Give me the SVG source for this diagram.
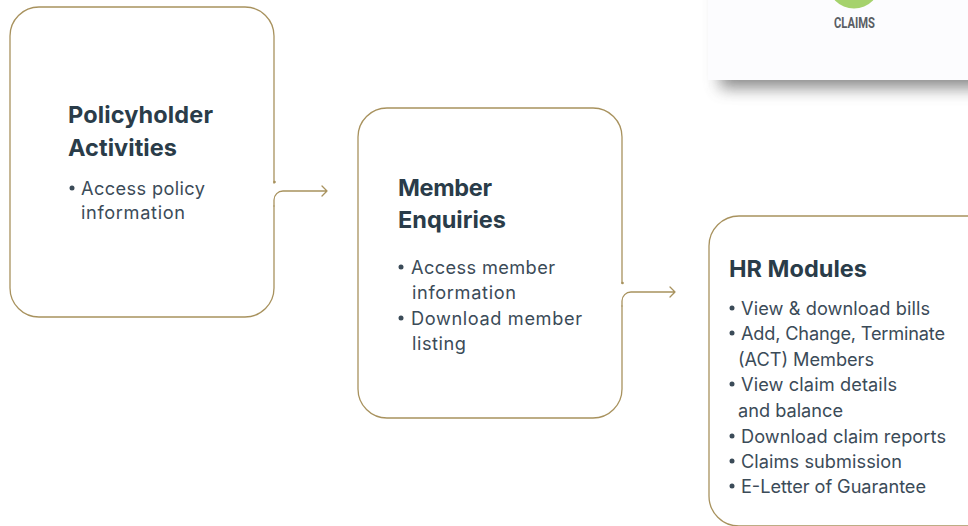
<svg xmlns="http://www.w3.org/2000/svg" width="968" height="526" viewBox="0 0 968 526">
<defs>
<style>
.n{fill:none;stroke:#a8925e;stroke-width:1.3;stroke-linecap:round;stroke-linejoin:round}
.t{font-family:"Inter","Noto Sans","Liberation Sans",sans-serif;font-weight:700;font-size:23.5px;fill:#2a3c49}
.b{font-family:"Inter","Noto Sans","Liberation Sans",sans-serif;font-size:18.2px;fill:#3b4b58}
.d{fill:#3b4b58}
.c{font-family:"Roboto","Liberation Sans",sans-serif;font-weight:700;font-size:15.5px;fill:#5a5e64}
</style>
<filter id="s" x="-20%" y="-30%" width="140%" height="170%"><feGaussianBlur stdDeviation="8"/></filter>
</defs>
<rect width="968" height="526" fill="#fff"/>
<g id="claims-card">
<rect x="720" y="-40" width="270" height="128" fill="#5e5e5e" opacity=".72" filter="url(#s)"/>
<rect x="708" y="-10" width="270" height="90" fill="#fcfcfe"/>
<circle cx="854" cy="-18" r="26.500" fill="#a5d26c"/>
<text class="c" x="834" y="28" textLength="41" lengthAdjust="spacingAndGlyphs">CLAIMS</text>
</g>
<g id="policyholder">
<path class="n" d="M274 183V36A29 29 0 0 0 245 7H39A29 29 0 0 0 10 36V288A29 29 0 0 0 39 317H245A29 29 0 0 0 274 288V206"/>
<text class="t" x="68" y="123" textLength="145">Policyholder</text>
<text class="t" x="68" y="156" textLength="109">Activities</text>
<circle class="d" cx="72" cy="188" r="2.500"/>
<text class="b" x="81" y="195" textLength="124">Access policy</text>
<text class="b" x="81" y="219" textLength="104">information</text>
</g>
<g id="member">
<path class="n" d="M622 283V137A29 29 0 0 0 593 108H387A29 29 0 0 0 358 137V389A29 29 0 0 0 387 418H593A29 29 0 0 0 622 389V306"/>
<text class="t" x="398" y="196" textLength="94">Member</text>
<text class="t" x="398" y="228" textLength="108">Enquiries</text>
<circle class="d" cx="401" cy="267" r="2.500"/>
<text class="b" x="411" y="274" textLength="144">Access member</text>
<text class="b" x="412" y="299" textLength="104">information</text>
<circle class="d" cx="401" cy="318" r="2.500"/>
<text class="b" x="411" y="325" textLength="171">Download member</text>
<text class="b" x="412" y="350" textLength="54">listing</text>
</g>
<g id="hr">
<path class="n" d="M974 216H739A30 30 0 0 0 709 246V496A30 30 0 0 0 739 526H974"/>
<text class="t" x="729" y="277" textLength="138">HR Modules</text>
<circle class="d" cx="732" cy="308" r="2.500"/>
<text class="b" x="741" y="315" textLength="189">View &amp; download bills</text>
<circle class="d" cx="732" cy="333" r="2.500"/>
<text class="b" x="741" y="340" textLength="204">Add, Change, Terminate</text>
<text class="b" x="738" y="366" textLength="136">(ACT) Members</text>
<circle class="d" cx="732" cy="384" r="2.500"/>
<text class="b" x="741" y="391" textLength="156">View claim details</text>
<text class="b" x="738" y="417" textLength="105">and balance</text>
<circle class="d" cx="732" cy="436" r="2.500"/>
<text class="b" x="741" y="443" textLength="205">Download claim reports</text>
<circle class="d" cx="732" cy="461" r="2.500"/>
<text class="b" x="741" y="468" textLength="161">Claims submission</text>
<circle class="d" cx="732" cy="486" r="2.500"/>
<text class="b" x="741" y="493" textLength="185">E-Letter of Guarantee</text>
</g>
<g id="connectors">
<path class="n" d="M274 206V200A9 9 0 0 1 283 191H327M322 186L327 191L322 196"/>
<circle cx="274.500" cy="182" r="1.300" fill="#a8925e"/>
<path class="n" d="M622 306V301A9 9 0 0 1 631 292H675M670 287L675 292L670 297"/>
<circle cx="622.500" cy="283" r="1.300" fill="#a8925e"/>
</g>
</svg>
